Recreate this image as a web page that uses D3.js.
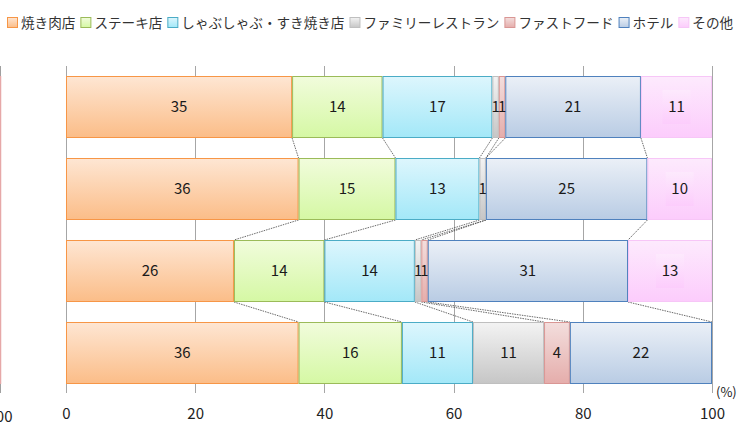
<!DOCTYPE html>
<html><head><meta charset="utf-8">
<script src="https://cdn.jsdelivr.net/npm/d3@7"></script>
<style>
body{margin:0;background:#fff;}
svg{display:block;font-family:"Noto Sans CJK JP","DejaVu Sans",sans-serif;}
</style></head>
<body><svg id="c" width="753" height="422"></svg>
<script>
const rows = ["r1","r2","r3","r4"];
const seriesNames = ["焼き肉店","ステーキ店","しゃぶしゃぶ・すき焼き店","ファミリーレストラン","ファストフード","ホテル","その他"];
const yakiniku = [35,36,26,36];
const steak = [14,15,14,16];
const shabu = [17,13,14,11];
const family = [1,1,1,11];
const fastfood = [1,0,1,4];
const hotel = [21,25,31,22];
const other = [11,10,13,0];
const seriesValues = [yakiniku,steak,shabu,family,fastfood,hotel,other];
const xTicks = [0,20,40,60,80,100];
const colTop = ["#fee6d3","#f1fcdc","#ddf6fd","#f3f3f3","#f3dedd","#ebf0f7","#fdeafd"];
const colBot = ["#fbbd88","#d5f8a4","#a3e8f8","#c6c6c6","#e5adab","#b9cce4","#fcccfc"];
const colLine = ["#f79646","#9bbb59","#4bacc6","#bfbfbf","#d99694","#4f81bd","#f7c6f7"];
const boxed = [false,false,false,false,false,false,true];

const svg = d3.select("#c");
const x = d3.scaleLinear().domain([0,100]).range([66,712]);
const y = d3.scaleBand().domain(rows).range([66,394]).paddingInner(0.2439).paddingOuter(0.122);

const defs = svg.append("defs");
seriesNames.forEach((s,i)=>{
  const g = defs.append("linearGradient").attr("id","g"+i).attr("x1",0).attr("y1",0).attr("x2",0).attr("y2",1);
  g.append("stop").attr("offset","0%").attr("stop-color",colTop[i]);
  g.append("stop").attr("offset","100%").attr("stop-color",colBot[i]);
});

// remnants of left panel (cropped)
svg.append("line").attr("x1",0.5).attr("x2",0.5).attr("y1",66).attr("y2",76).attr("stroke","#a0a0a0");
svg.append("line").attr("x1",0.5).attr("x2",0.5).attr("y1",384).attr("y2",393).attr("stroke","#a0a0a0");
svg.append("line").attr("x1",0.5).attr("x2",0.5).attr("y1",76).attr("y2",384).attr("stroke","#e6a8a8").attr("stroke-width",1.5);
svg.append("text").attr("x",0).attr("y",422).attr("text-anchor","middle").attr("font-size",15).attr("fill","#222").text("100");

// gridlines
svg.append("g").selectAll("line").data(xTicks).join("line")
  .attr("x1",d=>Math.round(x(d))+0.5).attr("x2",d=>Math.round(x(d))+0.5)
  .attr("y1",66).attr("y2",393).attr("stroke","#a6a6a6").attr("stroke-width",1);

// stacked data
const stacked = rows.map((r,ri)=>{
  let acc=0;
  return seriesValues.map((vals,si)=>{ const x0=acc; acc+=vals[ri]; return {r,ri,si,x0,x1:acc,v:vals[ri]}; });
});

// series lines
const sl = svg.append("g");
for(let ri=0;ri<rows.length-1;ri++){
  for(let si=0;si<seriesNames.length-1;si++){
    const a = stacked[ri][si].x1, b = stacked[ri+1][si].x1;
    sl.append("line").attr("x1",x(a)).attr("y1",y(rows[ri])+y.bandwidth())
      .attr("x2",x(b)).attr("y2",y(rows[ri+1]))
      .attr("stroke","#444").attr("stroke-width",0.8).attr("stroke-dasharray","1.5,1");
  }
}

const gb = svg.append("g");
stacked.forEach(row=>{
  row.forEach(d=>{
    if(d.v<=0) return;
    gb.append("rect").attr("x",x(d.x0)+0.5).attr("y",y(d.r)+0.5)
      .attr("width",x(d.x1)-x(d.x0)-1).attr("height",y.bandwidth()-1)
      .attr("fill","url(#g"+d.si+")").attr("stroke",colLine[d.si]).attr("stroke-width",1);
  });
});
const gl = svg.append("g");
stacked.forEach(row=>{
  row.forEach(d=>{
    if(d.v<=0) return;
    const cx = (x(d.x0)+x(d.x1))/2, cy = y(d.r)+y.bandwidth()/2;
    if(boxed[d.si]){
      gl.append("rect").attr("x",cx-14).attr("y",cy-17).attr("width",28).attr("height",34)
        .attr("fill","url(#g"+d.si+")").attr("opacity",0.9);
    }
    gl.append("text").attr("x",cx).attr("y",cy).attr("dy","0.36em").attr("text-anchor","middle")
      .attr("font-size",15).attr("fill","#1a1a1a").text(d.v);
  });
});

// x axis labels
const ax = svg.append("g").attr("transform","translate(0,400)")
  .call(d3.axisBottom(x).tickValues(xTicks).tickSize(0).tickPadding(8));
ax.select(".domain").remove();
ax.selectAll("text").attr("font-size",15).attr("fill","#222").attr("font-family","'Noto Sans CJK JP','DejaVu Sans',sans-serif");
svg.append("text").attr("x",716).attr("y",397).attr("font-size",13).attr("fill","#222").text("(%)");

// legend
const lg = svg.append("g");
let lx = 7;
seriesNames.forEach((s,i)=>{
  lg.append("rect").attr("x",lx+0.5).attr("y",17.5).attr("width",10).attr("height",10)
    .attr("fill","url(#g"+i+")").attr("stroke",colLine[i]).attr("stroke-width",1);
  const t = lg.append("text").attr("x",lx+14).attr("y",23).attr("dy","0.35em")
    .attr("font-size",13.6).attr("fill","#333").text(s);
  lx += 14 + t.node().getComputedTextLength() + 5;
});
</script></body></html>
